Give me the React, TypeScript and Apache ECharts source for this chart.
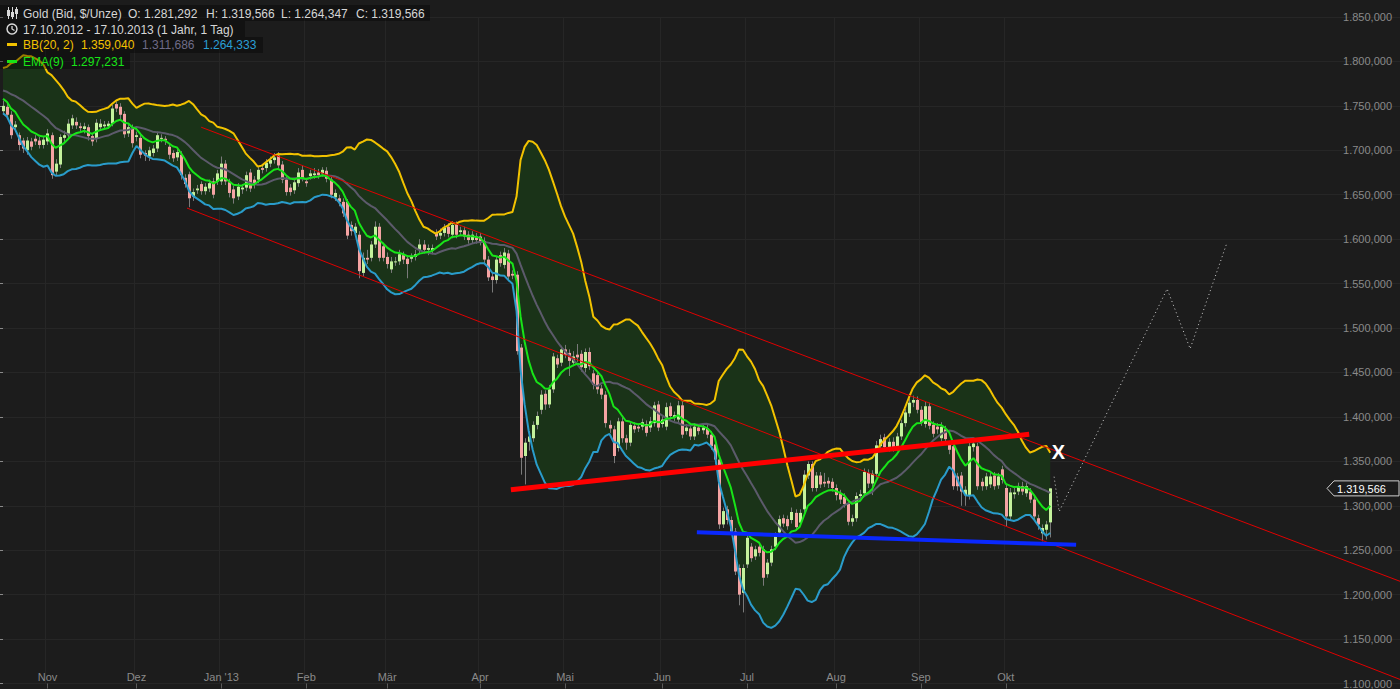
import React, { useEffect, useRef } from "react";
import * as echarts from "echarts";

// closes of the 20 sessions before the first visible candle (warm-up for BB/EMA)
const warmupCloses = [1772, 1768, 1773, 1764, 1764, 1753, 1779, 1772, 1776, 1776, 1778, 1793, 1781, 1775, 1764, 1765, 1770, 1758, 1738, 1748];

// daily candles [open, close, low, high]
const ohlc: number[][] = [
  // Oct 2012
  [1744, 1750, 1740, 1756], [1749, 1740, 1736, 1754], [1740, 1717, 1713, 1744], [1726, 1729, 1721, 1733], [1717, 1706, 1700, 1720],
  [1711, 1702, 1697, 1714], [1700, 1711, 1695, 1715], [1710, 1704, 1700, 1714], [1713, 1710, 1706, 1717], [1711, 1706, 1702, 1715],
  [1706, 1712, 1702, 1716],
  // Nov
  [1710, 1719, 1706, 1724], [1717, 1672, 1668, 1720], [1676, 1685, 1672, 1690], [1684, 1715, 1680, 1718], [1714, 1717, 1709, 1722],
  [1717, 1730, 1713, 1735], [1728, 1736, 1724, 1740], [1732, 1728, 1724, 1737], [1727, 1725, 1720, 1731], [1724, 1727, 1719, 1731],
  [1726, 1716, 1711, 1729], [1716, 1710, 1705, 1719], [1713, 1731, 1709, 1735], [1726, 1730, 1722, 1735], [1727, 1729, 1723, 1733],
  [1727, 1730, 1724, 1733], [1730, 1747, 1727, 1751], [1752, 1747, 1743, 1755], [1749, 1740, 1735, 1753], [1741, 1718, 1714, 1744],
  [1719, 1726, 1715, 1730], [1725, 1708, 1703, 1729],
  // Dec
  [1715, 1717, 1710, 1721], [1714, 1695, 1691, 1718], [1697, 1694, 1688, 1700], [1693, 1700, 1688, 1704], [1697, 1702, 1693, 1706],
  [1702, 1717, 1698, 1721], [1713, 1714, 1709, 1718], [1713, 1711, 1706, 1716], [1704, 1695, 1690, 1708], [1697, 1691, 1687, 1700],
  [1692, 1698, 1688, 1702], [1695, 1672, 1667, 1699], [1669, 1662, 1658, 1673], [1673, 1646, 1636, 1676], [1648, 1653, 1643, 1657],
  [1655, 1657, 1651, 1661], [1662, 1654, 1650, 1665], [1654, 1659, 1650, 1663], [1657, 1663, 1653, 1667], [1665, 1650, 1646, 1669],
  [1665, 1674, 1661, 1678],
  // Jan 2013
  [1665, 1685, 1661, 1693], [1685, 1665, 1661, 1689], [1664, 1652, 1647, 1668], [1656, 1646, 1640, 1660], [1648, 1659, 1644, 1663],
  [1656, 1658, 1651, 1662], [1658, 1672, 1654, 1676], [1675, 1657, 1653, 1679], [1667, 1661, 1657, 1671], [1667, 1678, 1663, 1682],
  [1680, 1678, 1674, 1684], [1680, 1686, 1676, 1690], [1685, 1689, 1681, 1693], [1689, 1692, 1685, 1697], [1694, 1683, 1679, 1698],
  [1684, 1667, 1663, 1688], [1667, 1653, 1649, 1671], [1658, 1653, 1649, 1662], [1655, 1664, 1651, 1668], [1663, 1675, 1659, 1680],
  [1678, 1669, 1665, 1683],
  // Feb
  [1665, 1663, 1659, 1669], [1671, 1674, 1667, 1678], [1672, 1674, 1668, 1680], [1675, 1672, 1668, 1679], [1674, 1678, 1670, 1681],
  [1677, 1668, 1664, 1681], [1667, 1650, 1646, 1670], [1647, 1652, 1643, 1656], [1646, 1642, 1637, 1650], [1642, 1629, 1625, 1646],
  [1642, 1604, 1600, 1645], [1616, 1609, 1604, 1620], [1607, 1614, 1603, 1618], [1605, 1564, 1556, 1609], [1562, 1579, 1558, 1585],
  [1579, 1577, 1572, 1588], [1579, 1594, 1575, 1598], [1594, 1614, 1590, 1620], [1614, 1579, 1575, 1618], [1592, 1579, 1575, 1596],
  // Mar
  [1580, 1572, 1567, 1585], [1566, 1575, 1562, 1580], [1574, 1575, 1570, 1580], [1575, 1583, 1571, 1588], [1582, 1577, 1572, 1586],
  [1578, 1572, 1556, 1582], [1578, 1580, 1574, 1584], [1580, 1583, 1576, 1588], [1588, 1594, 1584, 1600], [1594, 1588, 1584, 1599],
  [1588, 1590, 1582, 1594], [1587, 1590, 1583, 1594], [1607, 1603, 1599, 1611], [1604, 1607, 1600, 1612], [1607, 1613, 1603, 1617],
  [1614, 1606, 1602, 1618], [1605, 1616, 1601, 1620], [1616, 1605, 1601, 1620], [1608, 1610, 1604, 1614], [1610, 1603, 1599, 1614],
  [1605, 1599, 1595, 1609], [1599, 1605, 1595, 1609], [1603, 1599, 1595, 1607],
  // Apr
  [1603, 1597, 1593, 1607], [1598, 1577, 1573, 1602], [1577, 1557, 1553, 1581], [1558, 1554, 1540, 1562], [1554, 1577, 1550, 1581],
  [1582, 1573, 1569, 1586], [1571, 1585, 1567, 1590], [1584, 1558, 1554, 1588], [1561, 1559, 1555, 1565], [1560, 1474, 1470, 1564],
  [1478, 1354, 1335, 1482], [1356, 1371, 1324, 1376], [1372, 1378, 1362, 1384], [1376, 1391, 1372, 1395], [1391, 1401, 1386, 1406],
  [1408, 1425, 1403, 1430], [1426, 1414, 1408, 1430], [1414, 1431, 1410, 1436], [1431, 1468, 1427, 1472], [1466, 1459, 1455, 1470],
  [1461, 1476, 1457, 1480],
  // May
  [1476, 1470, 1466, 1481], [1472, 1463, 1446, 1476], [1461, 1468, 1457, 1474], [1470, 1467, 1462, 1482], [1471, 1456, 1451, 1475],
  [1455, 1473, 1450, 1477], [1473, 1457, 1453, 1478], [1449, 1436, 1431, 1453], [1447, 1431, 1426, 1451], [1432, 1425, 1420, 1436],
  [1425, 1393, 1388, 1429], [1391, 1387, 1382, 1396], [1386, 1356, 1348, 1390], [1365, 1395, 1361, 1399], [1395, 1376, 1371, 1400],
  [1376, 1371, 1363, 1380], [1371, 1391, 1367, 1395], [1390, 1386, 1382, 1394], [1389, 1387, 1383, 1392], [1389, 1394, 1385, 1398],
  [1392, 1382, 1378, 1396], [1388, 1395, 1383, 1400], [1393, 1413, 1389, 1417],
  // Jun
  [1414, 1388, 1384, 1418], [1392, 1397, 1388, 1401], [1389, 1411, 1385, 1416], [1412, 1401, 1397, 1416], [1399, 1402, 1395, 1406],
  [1397, 1413, 1393, 1418], [1413, 1380, 1376, 1417], [1384, 1388, 1380, 1392], [1387, 1378, 1374, 1391], [1378, 1389, 1374, 1393],
  [1388, 1384, 1380, 1392], [1385, 1388, 1381, 1392], [1387, 1380, 1376, 1391], [1380, 1367, 1363, 1384], [1369, 1352, 1347, 1373],
  [1352, 1279, 1274, 1356], [1279, 1294, 1275, 1298], [1296, 1284, 1279, 1300], [1284, 1271, 1267, 1288], [1271, 1226, 1222, 1275],
  [1230, 1200, 1188, 1234],
  // Jul
  [1202, 1230, 1180, 1234], [1234, 1264, 1230, 1268], [1254, 1241, 1237, 1258], [1243, 1251, 1239, 1255], [1254, 1247, 1243, 1258],
  [1251, 1219, 1210, 1255], [1223, 1236, 1219, 1240], [1236, 1251, 1232, 1255], [1254, 1266, 1250, 1270], [1270, 1285, 1266, 1289],
  [1286, 1280, 1276, 1290], [1285, 1277, 1273, 1289], [1284, 1293, 1280, 1298], [1292, 1276, 1272, 1296], [1281, 1292, 1277, 1296],
  [1296, 1335, 1292, 1340], [1334, 1347, 1330, 1350], [1347, 1320, 1316, 1350], [1320, 1334, 1316, 1338], [1334, 1324, 1320, 1338],
  [1327, 1325, 1321, 1337], [1328, 1325, 1320, 1332],
  // Aug
  [1327, 1320, 1316, 1331], [1320, 1312, 1306, 1324], [1314, 1307, 1302, 1318], [1310, 1302, 1298, 1314], [1302, 1282, 1278, 1306],
  [1282, 1286, 1277, 1290], [1286, 1311, 1282, 1315], [1311, 1313, 1306, 1318], [1314, 1338, 1310, 1342], [1337, 1325, 1320, 1341],
  [1325, 1336, 1312, 1340], [1336, 1368, 1332, 1373], [1367, 1375, 1362, 1380], [1377, 1366, 1361, 1381], [1365, 1372, 1361, 1376],
  [1372, 1366, 1361, 1377], [1366, 1378, 1362, 1382], [1378, 1393, 1374, 1397], [1393, 1405, 1389, 1409], [1404, 1416, 1400, 1421],
  [1416, 1419, 1411, 1424],
  // Sep
  [1419, 1408, 1404, 1423], [1408, 1394, 1390, 1412], [1392, 1412, 1388, 1417], [1412, 1390, 1386, 1416], [1391, 1381, 1377, 1395],
  [1389, 1386, 1381, 1393], [1376, 1389, 1372, 1394], [1386, 1375, 1371, 1390], [1369, 1363, 1358, 1373], [1367, 1322, 1318, 1371],
  [1333, 1322, 1317, 1337], [1334, 1316, 1300, 1338], [1312, 1318, 1300, 1322], [1311, 1367, 1307, 1371], [1366, 1370, 1361, 1375],
  [1367, 1322, 1318, 1371], [1327, 1322, 1317, 1331], [1322, 1333, 1318, 1337], [1324, 1333, 1320, 1337], [1334, 1322, 1318, 1338],
  [1323, 1333, 1319, 1337],
  // Oct 2013
  [1341, 1329, 1325, 1345], [1320, 1288, 1277, 1324], [1288, 1315, 1284, 1320], [1313, 1315, 1308, 1320], [1316, 1322, 1312, 1326],
  [1322, 1316, 1312, 1327], [1314, 1322, 1310, 1326], [1316, 1307, 1303, 1320], [1307, 1288, 1283, 1311], [1286, 1279, 1273, 1290],
  [1269, 1275, 1260, 1279], [1273, 1279, 1262, 1283], [1281.292, 1319.566, 1264.347, 1319.566],
];

const TOTAL_SLOTS = 346;
const monthTicks = [11, 33, 54, 75, 95, 118, 139, 163, 184, 206, 227, 248];
const monthLabels = ["Nov", "Dez", "Jan '13", "Feb", "Mär", "Apr", "Mai", "Jun", "Jul", "Aug", "Sep", "Okt"];

// drawn annotations, [slot index, price]
const upperChannel = [[49, 1726], [345.5, 1215]];
const lowerChannel = [[45.5, 1635], [345.5, 1104.6]];
const resistanceLine = [[125.6, 1318.1], [253.8, 1380.5]];
const supportLine = [[171.6, 1270.1], [265.4, 1256]];
const projection = [[259.95, 1332.7], [261.2, 1293.4], [287.9, 1544.1], [293.6, 1476.7], [302.7, 1595.9]];
const xMarker = [261.0, 1360.8];

const headerTitle = "Gold (Bid, $/Unze)";
const headerRange = "17.10.2012 - 17.10.2013 (1 Jahr, 1 Tag)";
const bbHeader = ["1.359,040", "1.311,686", "1.264,333"];
const emaHeader = "1.297,231";

const fmt = (v: number) => {
  const s = v.toFixed(3);
  const [a, b] = s.split(".");
  return a.replace(/\B(?=(\d{3})+(?!\d))/g, ".") + "," + b;
};

function indicators() {
  const closes = ohlc.map((d) => d[1]);
  const all = [...warmupCloses, ...closes];
  const W = warmupCloses.length;
  const up: number[] = [], mid: number[] = [], lo: number[] = [];
  for (let i = 0; i < closes.length; i++) {
    const j = i + W;
    const win = all.slice(j - 19, j + 1);
    const m = win.reduce((s, x) => s + x, 0) / 20;
    const sd = Math.sqrt(win.reduce((s, x) => s + (x - m) * (x - m), 0) / 20);
    up.push(m + 2 * sd);
    mid.push(m);
    lo.push(m - 2 * sd);
  }
  const k = 2 / 10;
  let e = all.slice(0, 9).reduce((s, x) => s + x, 0) / 9;
  const ema: number[] = [];
  for (let j = 9; j < all.length; j++) {
    e = all[j] * k + e * (1 - k);
    if (j >= W) ema.push(e);
  }
  return { up, mid, lo, ema };
}

const FONT = "'Liberation Sans', Arial, sans-serif";

export default function App() {
  const ref = useRef<HTMLDivElement>(null);
  useEffect(() => {
    if (!ref.current) return;
    const chart = echarts.init(ref.current, undefined, { renderer: "svg" });
    const { up, mid, lo, ema } = indicators();
    const monthSet = new Set(monthTicks);
    const slots = Array.from({ length: TOTAL_SLOTS }, (_, i) => {
      const k = monthTicks.indexOf(i);
      return k >= 0 ? monthLabels[k] : "";
    });
    const candleData = ohlc.map((d, i) => [i, d[0], d[1], d[2], d[3]]);
    const iv = (i: number) => monthSet.has(i);

    chart.setOption({
      animation: false,
      backgroundColor: "#1c1c1c",
      textStyle: { fontFamily: FONT },
      grid: { left: 1, right: 0, top: 17, bottom: 5, containLabel: false },
      xAxis: [
        {
          type: "category",
          data: slots,
          boundaryGap: true,
          axisLine: { show: false },
          axisTick: { show: true, alignWithLabel: true, interval: iv, length: 5, lineStyle: { color: "#5a5a5a" } },
          axisLabel: { inside: true, interval: iv, color: "#8a8a8a", fontSize: 11, margin: 1, fontFamily: FONT },
          splitLine: { show: true, interval: iv, lineStyle: { color: "#262626", width: 1 } },
        },
        { type: "value", min: -0.5, max: TOTAL_SLOTS - 0.5, show: false },
      ],
      yAxis: {
        type: "value",
        position: "right",
        min: 1100,
        max: 1850,
        interval: 50,
        axisLine: { show: false },
        axisTick: { show: true, inside: true, length: 5, lineStyle: { color: "#8a8a8a" } },
        axisLabel: { inside: true, margin: 8, color: "#8a8a8a", fontSize: 11, fontFamily: FONT, formatter: (v: number) => fmt(v) },
        splitLine: { show: true, lineStyle: { color: "#262626", width: 1 } },
      },
      series: [
        { type: "line", data: lo, stack: "bb", symbol: "none", silent: true, lineStyle: { opacity: 0 }, z: 1 },
        {
          type: "line", data: up.map((u, i) => u - lo[i]), stack: "bb", symbol: "none", silent: true,
          lineStyle: { opacity: 0 }, areaStyle: { color: "#1a3318", opacity: 1 }, z: 1,
        },
        {
          type: "custom",
          z: 2,
          data: candleData,
          encode: { x: 0, y: [1, 2, 3, 4] },
          renderItem: (params: any, api: any) => {
            const x = api.value(0);
            const o = api.value(1), c = api.value(2), l = api.value(3), h = api.value(4);
            const pO = api.coord([x, o]), pC = api.coord([x, c]), pL = api.coord([x, l]), pH = api.coord([x, h]);
            const cx = Math.round(pO[0]);
            const upC = c >= o;
            const top = Math.min(pO[1], pC[1]);
            const hh = Math.max(1, Math.abs(pO[1] - pC[1]));
            return {
              type: "group",
              children: [
                { type: "line", shape: { x1: cx + 0.5, y1: pH[1], x2: cx + 0.5, y2: pL[1] }, style: { stroke: "#7a7a7a", lineWidth: 1 } },
                { type: "rect", shape: { x: cx - 1, y: top, width: 3, height: hh }, style: { fill: upC ? "#c4f29c" : "#f5a3a3", stroke: null } },
              ],
            };
          },
        },
        { type: "line", data: up, symbol: "none", lineStyle: { color: "#f2c200", width: 2 }, z: 3 },
        { type: "line", data: mid, symbol: "none", lineStyle: { color: "#5c5a6b", width: 2 }, z: 3 },
        { type: "line", data: lo, symbol: "none", lineStyle: { color: "#2a9ccb", width: 2 }, z: 3 },
        { type: "line", data: ema, symbol: "none", lineStyle: { color: "#18e418", width: 2 }, z: 4 },
        { type: "line", xAxisIndex: 1, data: upperChannel, symbol: "none", lineStyle: { color: "#e00000", width: 1 }, z: 5 },
        { type: "line", xAxisIndex: 1, data: lowerChannel, symbol: "none", lineStyle: { color: "#e00000", width: 1 }, z: 5 },
        { type: "line", xAxisIndex: 1, data: resistanceLine, symbol: "none", lineStyle: { color: "#ff0000", width: 5 }, z: 6 },
        { type: "line", xAxisIndex: 1, data: supportLine, symbol: "none", lineStyle: { color: "#0a28ff", width: 4 }, z: 6 },
        { type: "line", xAxisIndex: 1, data: projection, symbol: "none", lineStyle: { color: "#cfcfcf", width: 1, type: [1, 3] }, z: 6 },
      ],
    });

    const last = ohlc[ohlc.length - 1];
    const ty = chart.convertToPixel({ yAxisIndex: 0 }, last[1]) as number;
    const xp = chart.convertToPixel({ xAxisIndex: 1, yAxisIndex: 0 }, xMarker) as number[];
    const txt = (x: number, y: number, text: string, fill: string) => ({
      type: "text", x, y, style: { text, fill, font: `12px ${FONT}`, textVerticalAlign: "middle" }, z: 101,
    });
    const box = (y: number, w: number) => ({ type: "rect", shape: { x: 0, y, width: w, height: 16 }, style: { fill: "rgba(0,0,0,0.35)" }, z: 100 });
    chart.setOption({
      graphic: [
        box(5, 430), box(21, 245), box(37, 263), box(53, 130),
        // candle icon
        { type: "line", shape: { x1: 8.5, y1: 7, x2: 8.5, y2: 19 }, style: { stroke: "#d8d8d8", lineWidth: 1 }, z: 101 },
        { type: "rect", shape: { x: 7, y: 10, width: 3, height: 6 }, style: { fill: "#d8d8d8" }, z: 101 },
        { type: "line", shape: { x1: 12.5, y1: 7, x2: 12.5, y2: 19 }, style: { stroke: "#d8d8d8", lineWidth: 1 }, z: 101 },
        { type: "rect", shape: { x: 11, y: 12, width: 3, height: 5 }, style: { fill: "#d8d8d8" }, z: 101 },
        { type: "line", shape: { x1: 16.5, y1: 7, x2: 16.5, y2: 19 }, style: { stroke: "#d8d8d8", lineWidth: 1 }, z: 101 },
        { type: "rect", shape: { x: 15, y: 9, width: 3, height: 5 }, style: { fill: "#d8d8d8" }, z: 101 },
        // clock icon
        { type: "circle", shape: { cx: 12, cy: 29, r: 5 }, style: { fill: "none", stroke: "#d8d8d8", lineWidth: 1.5 }, z: 101 },
        { type: "polyline", shape: { points: [[12, 26], [12, 29], [14.5, 30.5]] }, style: { stroke: "#d8d8d8", lineWidth: 1.3, fill: "none" }, z: 101 },
        // legend dashes
        { type: "rect", shape: { x: 7, y: 43, width: 10, height: 3 }, style: { fill: "#f2c200" }, z: 101 },
        { type: "rect", shape: { x: 7, y: 60, width: 10, height: 3 }, style: { fill: "#18e418" }, z: 101 },
        txt(23, 13.5, headerTitle, "#d6d6d6"),
        txt(128, 13.5, "O: " + fmt(last[0]), "#d6d6d6"),
        txt(206, 13.5, "H: " + fmt(last[3]), "#d6d6d6"),
        txt(281, 13.5, "L: " + fmt(last[2]), "#d6d6d6"),
        txt(356, 13.5, "C: " + fmt(last[1]), "#d6d6d6"),
        txt(23, 29.5, headerRange, "#d6d6d6"),
        txt(23, 45, "BB(20, 2)", "#f2c200"),
        txt(81, 45, bbHeader[0], "#f2c200"),
        txt(142, 45, bbHeader[1], "#6f6b88"),
        txt(203, 45, bbHeader[2], "#2a9fd6"),
        txt(23, 61.5, "EMA(9)", "#18e418"),
        txt(71, 61.5, emaHeader, "#18e418"),
        // X marker
        {
          type: "text", x: xp[0], y: xp[1],
          style: { text: "X", fill: "#ffffff", font: `bold 20px ${FONT}`, textAlign: "center", textVerticalAlign: "middle" }, z: 104,
        },
        // last price tag
        {
          type: "polygon",
          shape: { points: [[1327, ty], [1334, ty - 7.5], [1399, ty - 7.5], [1399, ty + 7.5], [1334, ty + 7.5]] },
          style: { fill: "#1c1c1c", stroke: "#cfcfcf", lineWidth: 1 }, z: 102,
        },
        { type: "text", x: 1337, y: ty + 0.5, style: { text: fmt(last[1]), fill: "#ffffff", font: `11px ${FONT}`, textVerticalAlign: "middle" }, z: 103 },
      ],
    });
    return () => chart.dispose();
  }, []);
  return <div ref={ref} style={{ position: "fixed", left: 0, top: 0, width: 1400, height: 689 }} />;
}
